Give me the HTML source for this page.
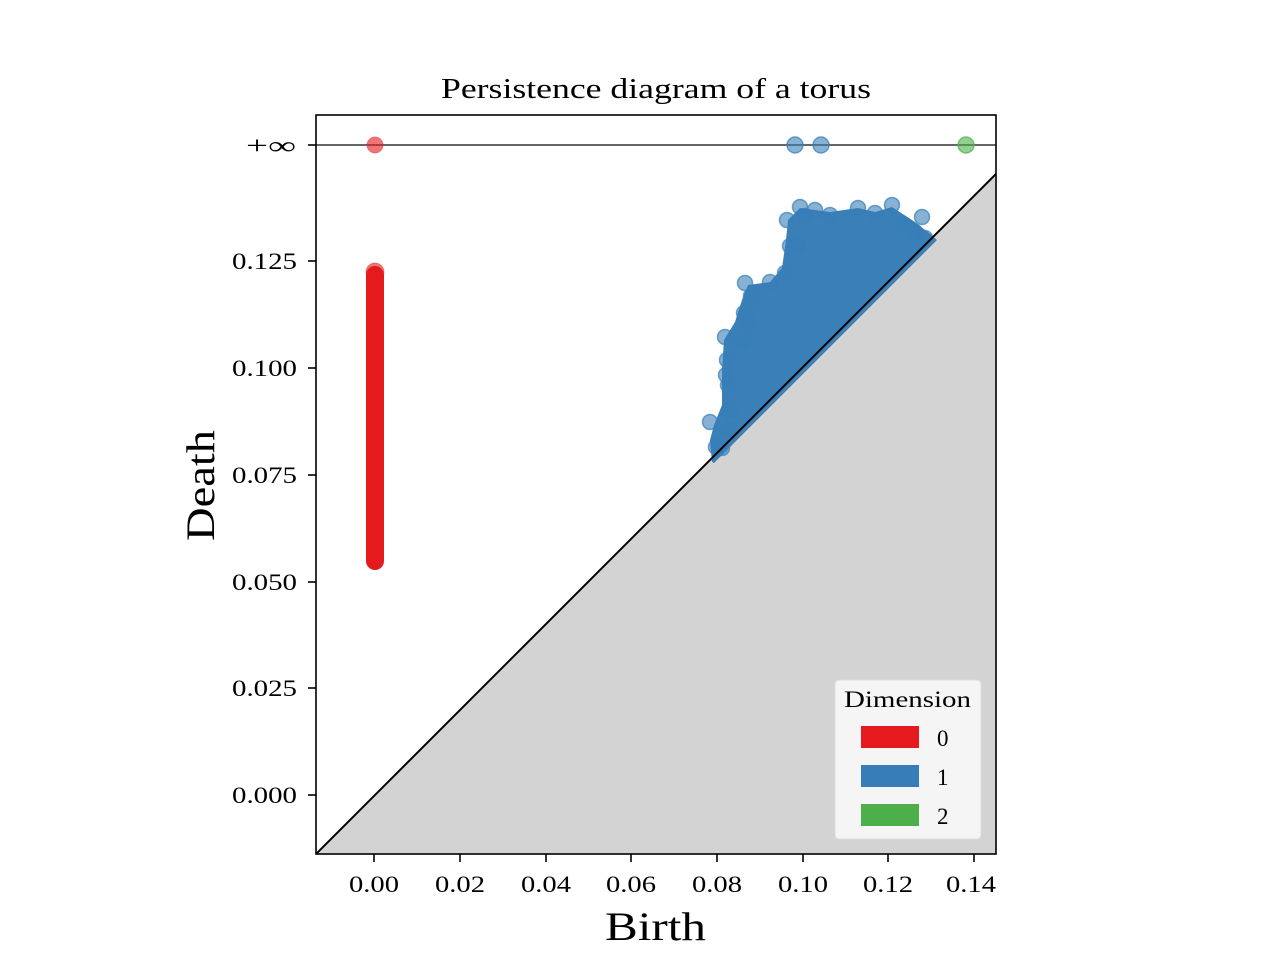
<!DOCTYPE html>
<html><head><meta charset="utf-8"><style>
html,body{margin:0;padding:0;background:#fff;}
svg text{font-family:"Liberation Serif","DejaVu Serif",serif;fill:#000;}
</style></head><body>
<svg width="1280" height="960" xmlns="http://www.w3.org/2000/svg">
<rect width="1280" height="960" fill="#fff"/>
<defs><clipPath id="c"><rect x="316" y="115" width="680" height="739"/></clipPath></defs>
<g clip-path="url(#c)">
<polygon points="316,854 996,174 996,854" fill="#d3d3d3"/>
<line x1="316" y1="145" x2="996" y2="145" stroke="#666" stroke-width="2"/>
<rect x="366" y="266" width="18" height="304" rx="9" fill="#e41a1c"/>
<circle cx="375" cy="272" r="9" fill="#e41a1c" fill-opacity="0.6" stroke="#e41a1c" stroke-opacity="0.4"/>
<circle cx="375" cy="145" r="8" fill="#e41a1c" fill-opacity="0.6" stroke="#e41a1c" stroke-opacity="0.4"/>
<polygon fill="#3a7fb8" points="712,462 710,440 714,425 722,405 722,370 724,340 735,322 742,300 748,285 770,282 782,268 786,240 788,220 800,208 830,212 858,208 875,212 892,207 915,222 930,234 937,240 714,463"/>
<g fill="#377eb8" fill-opacity="0.6" stroke="#377eb8" stroke-opacity="0.7" stroke-width="1.5">
<circle cx="710" cy="422" r="7.5"/><circle cx="716" cy="447" r="7.5"/><circle cx="722" cy="448" r="7.5"/>
<circle cx="725" cy="337" r="7.5"/><circle cx="727" cy="360" r="7.5"/><circle cx="726" cy="375" r="7.5"/>
<circle cx="728" cy="385" r="7.5"/><circle cx="730" cy="410" r="7.5"/><circle cx="728" cy="430" r="7.5"/>
<circle cx="745" cy="283" r="7.5"/><circle cx="744" cy="313" r="7.5"/><circle cx="748" cy="323" r="7.5"/>
<circle cx="743" cy="342" r="7.5"/><circle cx="751" cy="296" r="7.5"/><circle cx="770" cy="282" r="7.5"/>
<circle cx="785" cy="273" r="7.5"/><circle cx="790" cy="246" r="7.5"/><circle cx="787" cy="220" r="7.5"/>
<circle cx="798" cy="245" r="7.5"/><circle cx="800" cy="207" r="7.5"/><circle cx="805" cy="216" r="7.5"/>
<circle cx="815" cy="210" r="7.5"/><circle cx="830" cy="215" r="7.5"/><circle cx="858" cy="208" r="7.5"/>
<circle cx="875" cy="213" r="7.5"/><circle cx="892" cy="205" r="7.5"/><circle cx="903" cy="224" r="7.5"/>
<circle cx="922" cy="217" r="7.5"/><circle cx="915" cy="232" r="7.5"/><circle cx="925" cy="238" r="7.5"/>
<circle cx="795" cy="145" r="8"/><circle cx="821" cy="145" r="8"/>
</g>
<circle cx="966" cy="145" r="8" fill="#4daf4a" fill-opacity="0.6" stroke="#4daf4a" stroke-opacity="0.7" stroke-width="1.5"/>
<line x1="316" y1="854" x2="996" y2="174" stroke="#000" stroke-width="2"/>
</g>
<rect x="316" y="115" width="680" height="739" fill="none" stroke="#000" stroke-width="1.6"/>
<rect x="835" y="680" width="146" height="159" rx="4" fill="#f5f5f5" stroke="#ddd" stroke-width="1"/>
<text x="844" y="707" font-size="23" textLength="127" lengthAdjust="spacingAndGlyphs">Dimension</text>
<rect x="861" y="726" width="58" height="22" fill="#e41a1c"/>
<rect x="861" y="765" width="58" height="22" fill="#377eb8"/>
<rect x="861" y="804" width="58" height="22" fill="#4daf4a"/>
<text x="937" y="746" font-size="23">0</text>
<text x="937" y="785" font-size="23">1</text>
<text x="937" y="824" font-size="23">2</text>
<g stroke="#000" stroke-width="1.6">
<line x1="374" y1="854" x2="374" y2="862"/><line x1="460" y1="854" x2="460" y2="862"/>
<line x1="546" y1="854" x2="546" y2="862"/><line x1="631" y1="854" x2="631" y2="862"/>
<line x1="717" y1="854" x2="717" y2="862"/><line x1="803" y1="854" x2="803" y2="862"/>
<line x1="888" y1="854" x2="888" y2="862"/><line x1="974" y1="854" x2="974" y2="862"/>
<line x1="308" y1="795" x2="316" y2="795"/><line x1="308" y1="688" x2="316" y2="688"/>
<line x1="308" y1="582" x2="316" y2="582"/><line x1="308" y1="475" x2="316" y2="475"/>
<line x1="308" y1="368" x2="316" y2="368"/><line x1="308" y1="261" x2="316" y2="261"/>
<line x1="308" y1="145" x2="316" y2="145"/>
</g>
<g font-size="23" text-anchor="middle">
<text x="374" y="892" textLength="50" lengthAdjust="spacingAndGlyphs">0.00</text>
<text x="460" y="892" textLength="50" lengthAdjust="spacingAndGlyphs">0.02</text>
<text x="546" y="892" textLength="50" lengthAdjust="spacingAndGlyphs">0.04</text>
<text x="631" y="892" textLength="50" lengthAdjust="spacingAndGlyphs">0.06</text>
<text x="717" y="892" textLength="50" lengthAdjust="spacingAndGlyphs">0.08</text>
<text x="803" y="892" textLength="50" lengthAdjust="spacingAndGlyphs">0.10</text>
<text x="888" y="892" textLength="50" lengthAdjust="spacingAndGlyphs">0.12</text>
<text x="971" y="892" textLength="50" lengthAdjust="spacingAndGlyphs">0.14</text>
</g>
<g font-size="23">
<text x="232" y="803" textLength="65" lengthAdjust="spacingAndGlyphs">0.000</text>
<text x="232" y="696" textLength="65" lengthAdjust="spacingAndGlyphs">0.025</text>
<text x="232" y="590" textLength="65" lengthAdjust="spacingAndGlyphs">0.050</text>
<text x="232" y="483" textLength="65" lengthAdjust="spacingAndGlyphs">0.075</text>
<text x="232" y="376" textLength="65" lengthAdjust="spacingAndGlyphs">0.100</text>
<text x="232" y="269" textLength="65" lengthAdjust="spacingAndGlyphs">0.125</text>
<text x="246" y="154" font-size="25" textLength="50" lengthAdjust="spacingAndGlyphs">+∞</text>
</g>
<text x="441" y="98" font-size="28" textLength="430" lengthAdjust="spacingAndGlyphs">Persistence diagram of a torus</text>
<text x="605" y="940" font-size="40" textLength="101" lengthAdjust="spacingAndGlyphs">Birth</text>
<text x="214" y="541" font-size="40" textLength="111" lengthAdjust="spacingAndGlyphs" transform="rotate(-90 214 541)">Death</text>
</svg>
</body></html>
